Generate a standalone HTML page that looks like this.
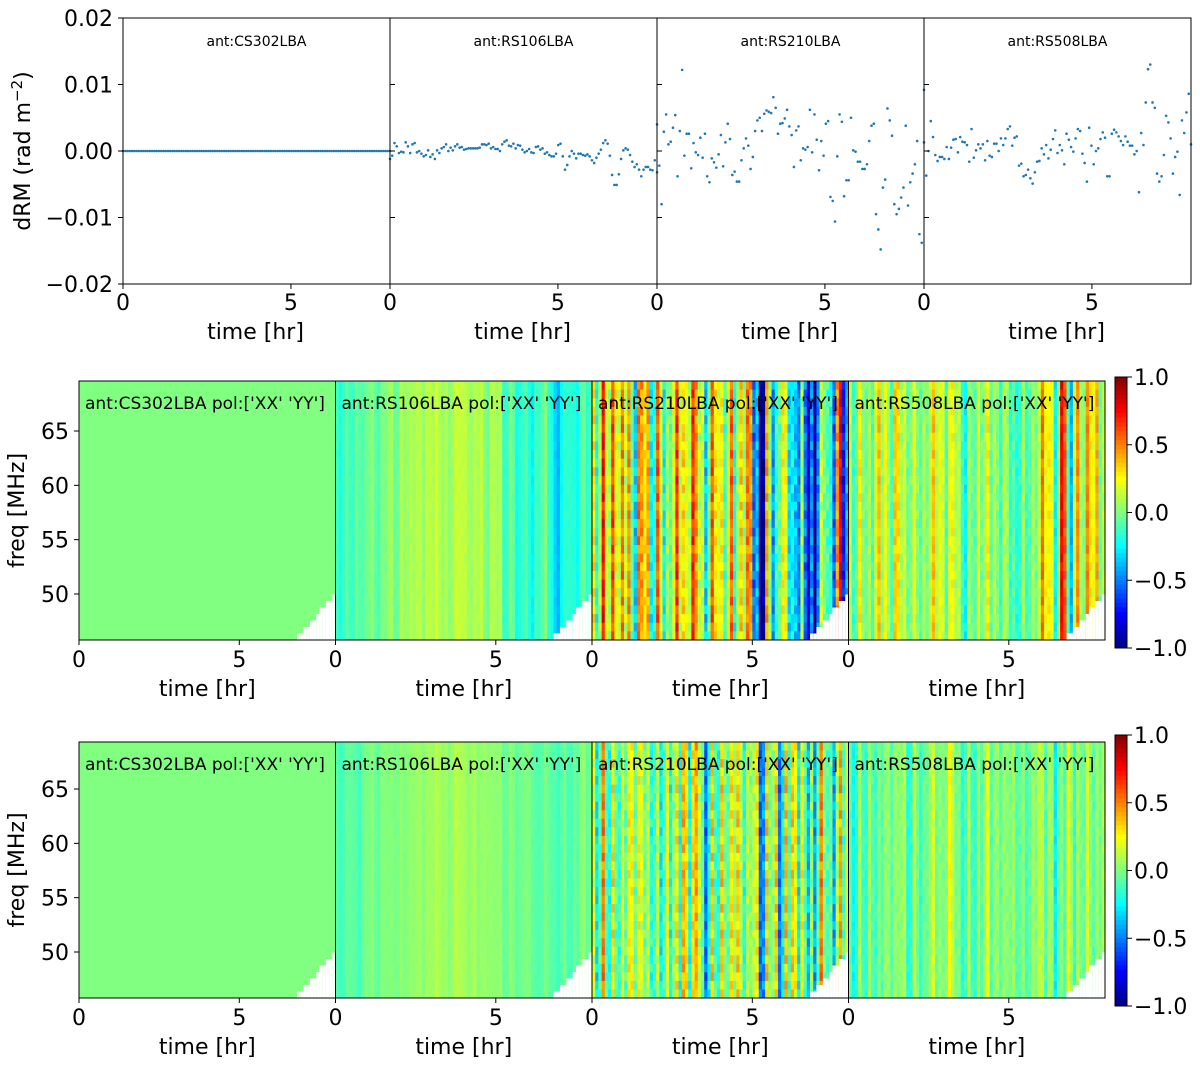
<!DOCTYPE html>
<html><head><meta charset="utf-8"><style>
body{margin:0;background:#fff;font-family:"DejaVu Sans",sans-serif}
svg text{font-family:"DejaVu Sans","Liberation Sans",sans-serif}
</style></head><body>
<svg id="fig" width="1200" height="1069" xmlns="http://www.w3.org/2000/svg"></svg>
<script>
const ants=["CS302LBA","RS106LBA","RS210LBA","RS508LBA"];
const xTicks=[0,5];
const yTicksTop=[0.02,0.01,0.00,-0.01,-0.02];
const yTickLabelsTop=["0.02","0.01","0.00","\u22120.01","\u22120.02"];
const freqTicks=[65,60,55,50];
const cbTicks=[1.0,0.5,0.0,-0.5,-1.0];
const cbLabels=["1.0","0.5","0.0","\u22120.5","\u22121.0"];
// dRM values (units 0.001 rad m^-2)
const drmCS302=new Array(120).fill(0);
const drmRS106=[-1.2,-0.7,1.2,0.7,-0.3,-0.1,-0.2,1.3,0.7,-0.3,1.0,1.2,-0.2,0.0,-0.4,-0.8,-0.6,0.1,-0.9,-0.5,-1.2,0.1,-0.3,0.4,0.6,1.0,0.0,0.5,0.1,0.7,1.0,0.5,0.6,0.2,0.3,0.4,0.4,0.4,0.4,0.4,0.5,1.0,1.0,0.9,1.1,0.4,0.6,0.3,0.3,0.0,1.0,1.4,1.6,0.8,0.7,1.1,0.4,0.9,0.8,0.2,-0.2,0.0,0.3,-0.2,-0.3,0.6,0.7,0.2,0.4,-0.4,-0.2,-0.6,-0.8,-0.8,-0.4,0.9,1.1,-0.8,-2.8,-2.1,-0.8,0.0,-0.4,-1.1,-0.4,-0.4,-0.6,-0.7,-0.5,-0.8,-1.4,-1.8,-1.0,-0.4,0.2,1.2,1.6,1.1,-0.7,-3.6,-5.1,-5.1,-3.5,-1.2,0.1,0.4,0.2,-0.6,-1.6,-2.4,-2.0,-2.8,-3.8,-2.8,-2.4,-2.4,-2.8,-2.9,-1.4,-3.2];
const drmRS210=[4.0,-2.2,-8,2.9,5.5,1.0,1.4,3.5,5.4,-3.8,3.0,12.2,-0.7,2.6,2.6,-2.6,1.2,-0.2,-0.6,2.0,-1.0,2.6,-3.8,-4.7,-1.1,-1.7,-2.5,-0.5,2.4,-2.3,1.3,4.1,1.8,-3.6,-3.1,-4.6,-4.6,-1.4,0.4,1.9,0.8,-2.7,-0.9,3.0,4.6,5.0,3.0,5.6,6.1,5.9,5.7,8.1,6.5,2.6,4.1,4.2,4.9,6.2,3.7,2.4,-2.4,3.1,3.7,-1.4,0.4,0.2,0.6,6.2,-0.2,5.5,1.7,-2.9,1.5,-0.7,4.1,4.5,-6.9,-7.5,-10.6,-0.8,5.5,4.4,-6.8,-4.4,-4.4,5.0,0.1,-0.1,-1.6,-1.6,-2.7,-2.7,-2.0,1.5,3.8,4.1,-9.5,-11.8,-14.8,-5.5,-4.3,6.4,4.6,2.3,-8,-9.5,-8.7,-7.0,-5.5,3.8,-8.2,-4.7,-3.4,-2.0,1.5,-12.5,-13.8,9.2];
const drmRS508=[1.3,-3.7,0,4.5,2.1,-0.6,-1.5,-0.9,-0.9,-1.2,0.6,-1.2,0.5,1.7,1.8,-0.2,2.1,1.4,1.3,0.9,-1.6,3.3,-1.0,0.1,1.0,0.4,1.0,-1.4,1.5,-0.7,-0.9,1.1,1.1,0,1.9,0.9,1.9,3.3,3.7,0.8,2.0,2.2,-2.2,-1.9,-3.8,-3.6,-2.8,-4.1,-4.9,-3.2,-1.6,-1.5,0.4,-0.5,0.9,-1.1,0.2,1.8,3.1,-0.3,0.9,0.1,-2.0,2.6,1.7,0.6,-0.1,1.9,3.3,3.0,-0.4,-1.8,-4.6,3.5,0.8,-2.0,0,0.4,1.8,2.8,2.0,-3.8,-3.8,2.6,3.2,2.8,2.2,1.5,0.9,2.2,1.4,0.8,0.8,-0.5,0,-6.2,2.7,0.9,7.3,12.3,13.0,7.3,6.5,-3.4,-4.6,-3.8,-0.6,5.3,4.3,1.9,-3.4,-0.9,-0.1,-6.6,4.6,2.7,5.8,8.6,1.0];
const drmSeries=[drmCS302,drmRS106,drmRS210,drmRS508];
// heatmap column means (0.2 hr per column)
const hmR2CS302=new Array(40).fill(0);
const hmR2RS106=[-0.15,-0.1,-0.12,-0.05,-0.1,0,-0.08,-0.05,0.05,0,0.05,0.08,0.1,0.05,0.1,0.12,0.05,0.08,0.1,0.15,0.1,0.05,0.1,0,0.05,0.08,-0.1,-0.05,-0.2,-0.1,-0.25,-0.15,-0.05,-0.2,-0.35,-0.2,-0.15,-0.2,-0.1,-0.15];
const hmR2RS210=[0.15,0.4,0.25,0.45,0.1,0.25,-0.15,0.15,0.3,0.1,0.25,-0.1,0.15,0.25,0.1,0.3,0.15,0,0.25,0.35,0.1,0.15,-0.1,0.25,0.15,-0.5,-0.7,0.1,-0.3,0.2,-0.2,-0.45,-0.3,-0.8,-0.6,-0.2,0.05,-0.35,0.4,-0.6];
const hmR2RS508=[0.05,0.1,0.05,0.0,0.15,0.1,0.0,0.15,0.1,0.15,0.05,0.0,0.1,0.15,0.1,0.0,0.1,0.05,-0.1,0.0,0.1,0.05,0.0,-0.05,-0.1,-0.15,0.0,-0.1,0.0,0.1,0.3,0.15,-0.15,0.6,-0.2,0.3,0.1,0.4,0.2,0.0];
const hmR3CS302=new Array(40).fill(0);
const hmR3RS106=[-0.1,-0.08,-0.05,-0.1,-0.05,0,-0.05,-0.02,0,0.02,0,0.03,0.05,0.02,0.05,0.08,0.05,0.05,0.08,0.1,0.05,0.05,0.02,0.05,0,0.03,-0.02,0,-0.05,0,-0.05,-0.1,-0.05,-0.08,-0.1,-0.05,-0.1,-0.05,0,-0.05];
const hmR3RS210=[0.05,0.2,-0.05,0.15,-0.2,0.05,0.15,-0.1,0,0.15,-0.2,0.05,0,-0.1,0.2,-0.05,0.15,-0.2,0.05,-0.05,0.2,-0.1,0.15,0,-0.25,0.15,-0.2,0.05,0.2,-0.3,0,0.15,-0.1,-0.35,-0.1,0.2,0.05,-0.2,0.05,0];
const hmR3RS508=[-0.1,-0.05,-0.1,0,-0.15,-0.05,0,-0.1,0.05,-0.05,0,-0.1,0.05,0,-0.05,0.1,0,-0.05,0,-0.1,0,0.05,-0.05,0,-0.1,0,0.05,-0.1,0,0.1,-0.05,0,-0.2,-0.1,0.2,-0.05,0,0.1,-0.1,0];
const hmAmpR2=[0,0.06,0.4,0.22];
const hmAmpR3=[0,0.04,0.38,0.16];
const texture=[0.3,-0.6,0.9,-0.2,0.5,-0.9,0.1,0.7,-0.4,0.2,-0.7,1.0,-0.1,0.4,-0.5,0.8,-0.3];

const NS="http://www.w3.org/2000/svg";
const svg=document.getElementById('fig');
function mk(tag,attrs,parent){const e=document.createElementNS(NS,tag);for(const k in attrs)e.setAttribute(k,attrs[k]);(parent||svg).appendChild(e);return e;}
function txt(s,attrs,parent){const e=mk('text',attrs,parent);e.textContent=s;return e;}
function clip(v){return Math.max(0,Math.min(1,v));}
function jet(v){const x=clip((v+1)/2);const r=clip(1.5-Math.abs(4*x-3)),g=clip(1.5-Math.abs(4*x-2)),b=clip(1.5-Math.abs(4*x-1));return `rgb(${Math.round(r*255)},${Math.round(g*255)},${Math.round(b*255)})`;}

// ---- top row
const topL=123,topW=267,topY0=18,topY1=284,tMax=7.95;
function ty(v){return topY0+(0.02-v)/0.04*(topY1-topY0);}
for(let p=0;p<4;p++){
  const x0=topL+p*topW;
  const g=mk('g',{});
  
  
  const tx=t=>x0+t/tMax*topW;
  const d=drmSeries[p];
  d.forEach((v,i)=>{const c=mk('circle',{cx:tx(i/(d.length-1)*tMax),cy:ty(v/1000),r:1.3,fill:'#1f77b4'},g);
    });
  mk('rect',{x:x0,y:topY0,width:topW,height:topY1-topY0,fill:'none',stroke:'#000','stroke-width':1},g);
  const lab=txt('ant:'+ants[p],{x:x0+topW/2,y:46,'font-size':14,'text-anchor':'middle'},g);
  
  xTicks.forEach(t=>{mk('line',{x1:tx(t),x2:tx(t),y1:topY1,y2:topY1+5,stroke:'#000'},g);
    txt(String(t),{x:tx(t),y:topY1+26,'font-size':22,'text-anchor':'middle'},g);});
  const xl=txt('time [hr]',{x:x0+topW/2-1,y:339,'font-size':22,'text-anchor':'middle'},g);
  
  yTicksTop.forEach(v=>{mk('line',{x1:x0,x2:x0-(p?-5:5),y1:ty(v),y2:ty(v),stroke:'#000'},g);});
}
yTicksTop.forEach((v,i)=>{txt(yTickLabelsTop[i],{x:113,y:ty(v)+8,'font-size':22,'text-anchor':'end'});});
const yl=txt('',{x:30,y:151,'font-size':22,'text-anchor':'middle',transform:'rotate(-90 30 151)'});
yl.innerHTML='dRM (rad m<tspan dy="-8" font-size="15">\u22122</tspan><tspan dy="8">)</tspan>';


// ---- heatmaps
const hmL=79,hmW=256.5;
function drawRow(top,bottom,f65,f50,means,amps,name,cbTop,cbBot){
  const fy=f=>f65+(65-f)/15*(f50-f65);
  const rows=30;
  for(let p=0;p<4;p++){
    const x0=hmL+p*hmW;
    const g=mk('g',{});
    
    
    const tx=t=>x0+t/8*hmW;
    const m=means[p],a=amps[p];
    const rh=(bottom-top)/rows;
    for(let k=0;k<m.length*2;k++){
      const base=m[Math.floor(k/2)];
      const x=tx(k*0.1),w=tx((k+1)*0.1)-x;
      for(let r=0;r<rows;r++){
        const v=base+texture[(k*5)%17]*a+texture[(k*3+r*7)%17]*a*0.3;
        const c=mk('rect',{x:x,y:top+r*rh,width:w+0.4,height:rh+0.4,fill:jet(v)},g);
        
      }
      const t=k*0.1;
      if(t>=6.8){const h=Math.ceil((t-6.8)/1.2*7)*6.5;mk('rect',{x:x,y:bottom-h,width:w+0.5,height:h,fill:'#fff'},g);}
    }
    mk('rect',{x:x0,y:top,width:hmW,height:bottom-top,fill:'none',stroke:'#000','stroke-width':1},g);
    const lab=txt('ant:'+ants[p]+" pol:['XX' 'YY']",{x:x0+6,y:top+28,'font-size':17},g);
    
    xTicks.forEach(t=>{mk('line',{x1:tx(t),x2:tx(t),y1:bottom,y2:bottom+5,stroke:'#000'},g);
      txt(String(t),{x:tx(t),y:bottom+27,'font-size':22,'text-anchor':'middle'},g);});
    const xl=txt('time [hr]',{x:x0+hmW/2,y:bottom+56,'font-size':22,'text-anchor':'middle'},g);
    
  }
  freqTicks.forEach(f=>{mk('line',{x1:hmL-5,x2:hmL,y1:fy(f),y2:fy(f),stroke:'#000'});
    txt(String(f),{x:69,y:fy(f)+8,'font-size':22,'text-anchor':'end'});});
  const yt=txt('freq [MHz]',{x:24,y:(top+bottom)/2,'font-size':22,'text-anchor':'middle',transform:`rotate(-90 24 ${(top+bottom)/2})`});
  
  const cb=mk('g',{});
  
  const n=60,ch=(cbBot-cbTop)/n;
  for(let i=0;i<n;i++)mk('rect',{x:1115,y:cbTop+i*ch,width:12,height:ch+0.5,fill:jet(1-2*(i+0.5)/n)},cb);
  mk('rect',{x:1115,y:cbTop,width:12,height:cbBot-cbTop,fill:'none',stroke:'#000'},cb);
  cbTicks.forEach((v,i)=>{const y=cbTop+(1-v)/2*(cbBot-cbTop);
    mk('line',{x1:1127,x2:1132,y1:y,y2:y,stroke:'#000'},cb);
    txt(cbLabels[i],{x:1134,y:y+8,'font-size':22},cb);});
}
drawRow(381,640,431,594,[hmR2CS302,hmR2RS106,hmR2RS210,hmR2RS508],hmAmpR2,'heatmap-xx',377,648);
drawRow(742,998,789,952,[hmR3CS302,hmR3RS106,hmR3RS210,hmR3RS508],hmAmpR3,'heatmap-yy',735,1006);
</script>
</body></html>
